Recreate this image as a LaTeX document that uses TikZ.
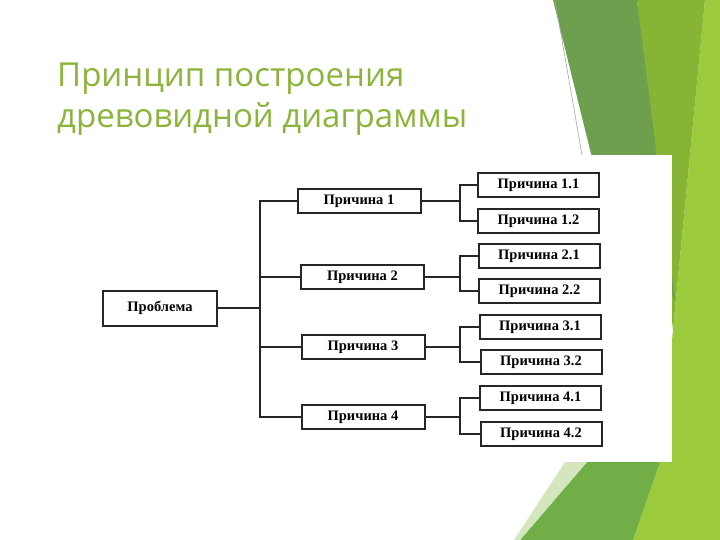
\documentclass[tikz,border=0pt]{standalone}
\usepackage{fontspec}
\setmainfont{Liberation Serif}
\newfontfamily\titlefont{Open Sans}
\usepackage{tikz}
\usetikzlibrary{positioning,calc}
\usepackage{xcolor}
\definecolor{leafdark}{HTML}{6E9F4E}
\definecolor{leafmid}{HTML}{86B434}
\definecolor{leaflight}{HTML}{9BCB3C}
\definecolor{leafbot}{HTML}{72AE48}
\definecolor{leafpale}{HTML}{D4E6BE}
\definecolor{ttlgreen}{HTML}{8AB43A}
\definecolor{ink}{HTML}{262626}

\begin{document}
\begin{tikzpicture}[x=1pt,y=-1pt,
  box/.style={draw=ink,line width=2pt,fill=white,inner sep=0pt,
    minimum height=24pt,font=\bfseries\fontsize{14.5}{15}\selectfont},
  cause/.style={box,minimum width=123pt},
  sub/.style={box,minimum width=121pt},
  ln/.style={draw=ink,line width=2pt},
  ttl/.style={anchor=base west,inner sep=0pt,text=ttlgreen,
    font=\titlefont\fontsize{33}{41}\selectfont}]
\useasboundingbox (0,0) rectangle (720,540);
% green background
\fill[leaflight] (705,0) -- (720,0) -- (720,540) -- (633,540) -- (660,462) -- (673,330) -- cycle;
\fill[leafmid] (637,0) -- (705,0) -- (673,330) -- cycle;
\fill[leafdark] (553,0) -- (637,0) -- (675,300) -- (600,190) -- cycle;
\fill[leafbot] (520,540) -- (587,462) -- (660,462) -- (633,540) -- cycle;
\fill[leafpale] (565,462) -- (587,462) -- (520,540) -- (514,540) -- cycle;
\draw[gray!70,line width=0.6pt] (555,0) -- (582,155);
\fill[white] (85,155) rectangle (672,462);
% title
\node[ttl] (ttl1) at (57,87) {Принцип построения};
\node[ttl] (ttl2) at (57,128) {древовидной диаграммы};
% tree
\node[box,minimum width=114pt,minimum height=35pt] (p) at (160,308) {Проблема};
\node[cause] (c1) at (359,201) {Причина 1};
\node[cause] (c2) at (362.5,277) {Причина 2};
\node[cause] (c3) at (363,347) {Причина 3};
\node[cause] (c4) at (363,417) {Причина 4};
\node[sub] (c11) at (538.5,185) {Причина 1.1};
\node[sub] (c12) at (538.5,221) {Причина 1.2};
\node[sub] (c21) at (539,256) {Причина 2.1};
\node[sub] (c22) at (539.5,291) {Причина 2.2};
\node[sub] (c31) at (540,327) {Причина 3.1};
\node[sub] (c32) at (541,362) {Причина 3.2};
\node[sub] (c41) at (540.5,398) {Причина 4.1};
\node[sub] (c42) at (541,434) {Причина 4.2};
\coordinate (t) at (260,0);
\coordinate (u) at (460,0);
\draw[ln] (p.east) -- (p.east -| t);
\draw[ln] (c1.west) -- (c1.west -| t) -- (c4.west -| t) -- (c4.west);
\draw[ln] (c2.west) -- (c2.west -| t);
\draw[ln] (c3.west) -- (c3.west -| t);
\draw[ln] (c1.east) -- (c1.east -| u);
\draw[ln] (c11.west) -- (c11.west -| u) -- (c12.west -| u) -- (c12.west);
\draw[ln] (c2.east) -- (c2.east -| u);
\draw[ln] (c21.west) -- (c21.west -| u) -- (c22.west -| u) -- (c22.west);
\draw[ln] (c3.east) -- (c3.east -| u);
\draw[ln] (c31.west) -- (c31.west -| u) -- (c32.west -| u) -- (c32.west);
\draw[ln] (c4.east) -- (c4.east -| u);
\draw[ln] (c41.west) -- (c41.west -| u) -- (c42.west -| u) -- (c42.west);
\end{tikzpicture}
\end{document}
